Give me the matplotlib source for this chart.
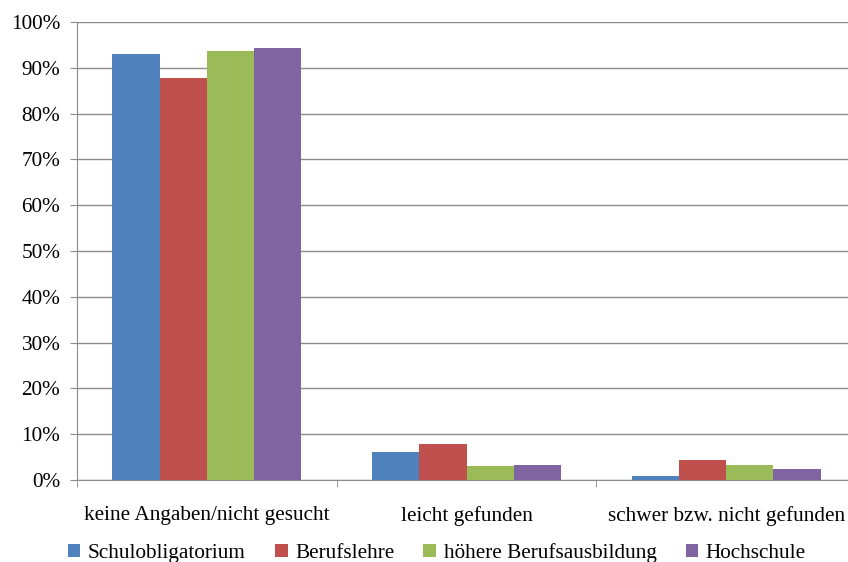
import numpy as np
import matplotlib.pyplot as plt

plt.rcParams['font.family'] = ['Liberation Serif', 'DejaVu Serif']

categories = ['keine Angaben/nicht gesucht', 'leicht gefunden', 'schwer bzw. nicht gefunden']
series = ['Schulobligatorium', 'Berufslehre', 'höhere Berufsausbildung', 'Hochschule']
values = [
    [93.0, 6.2, 0.9],   # Schulobligatorium
    [87.7, 7.9, 4.4],   # Berufslehre
    [93.7, 3.1, 3.3],   # höhere Berufsausbildung
    [94.3, 3.3, 2.3],   # Hochschule
]
colors = ['#4F81BD', '#C0504D', '#9BBB59', '#8064A2']

fig = plt.figure(figsize=(8.48, 5.62), dpi=100)
ax = fig.add_axes([77 / 848, 1 - 480 / 562, 779 / 848, 458 / 562])

x = np.arange(len(categories))
w = 1 / 5.5
handles = []
for i, (name, vals) in enumerate(zip(series, values)):
    b = ax.bar(x + (i - 1.5) * w, vals, width=w, color=colors[i], label=name, zorder=3)
    handles.append(b)

fs = 15.3
ax.set_xlim(-0.5, len(categories) - 0.5)
ax.set_ylim(0, 100)
ax.set_yticks(np.arange(0, 101, 10))
ax.set_yticklabels([f'{v}%' for v in range(0, 101, 10)], fontsize=fs)
ax.yaxis.grid(True, color='#8c8c8c', linewidth=1, zorder=0)

ax.set_xticks(x)
ax.set_xticklabels(categories, fontsize=fs)
ax.tick_params(axis='x', length=0, pad=18.5)
ax.set_xticks(np.arange(-0.5, len(categories) + 0.5, 1), minor=True)
ax.tick_params(axis='x', which='minor', length=5, color='#8c8c8c')
ax.tick_params(axis='y', length=5, color='#8c8c8c', pad=7)

for s in ['top', 'right']:
    ax.spines[s].set_visible(False)
ax.spines['left'].set_color('#8c8c8c')
ax.spines['bottom'].set_color('#8c8c8c')

fig.legend(handles=handles, labels=series, loc='center', bbox_to_anchor=(0.515, 1 - 553 / 562),
           ncol=4, frameon=False, fontsize=fs, handlelength=0.6, handleheight=0.6,
           handletextpad=0.35, columnspacing=1.37, borderaxespad=0, borderpad=0)

fig.savefig('out.png', dpi=100)
